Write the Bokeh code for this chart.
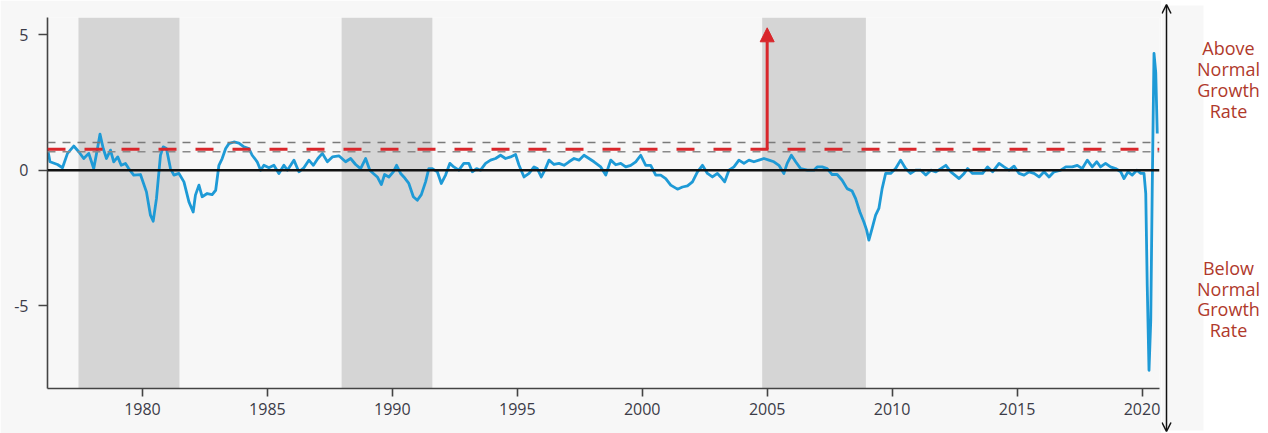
from bokeh.plotting import figure
from bokeh.layouts import row
from bokeh.models import (Range1d, FixedTicker, BoxAnnotation, Span, Arrow,
                          NormalHead, OpenHead, ColumnDataSource)
from bokeh.core.properties import value
from bokeh.embed import file_html
from bokeh.resources import INLINE

# ---------------- data ----------------
years = [1976.2, 1976.3, 1976.6, 1976.8, 1977.0, 1977.25, 1977.45, 1977.65, 1977.85, 1978.05,
         1978.2, 1978.3, 1978.43, 1978.56, 1978.72, 1978.85, 1979.01, 1979.15, 1979.32, 1979.45,
         1979.65, 1979.92, 1980.16, 1980.32, 1980.43, 1980.56, 1980.72, 1980.83, 1980.96, 1981.12,
         1981.26, 1981.46, 1981.66, 1981.86, 1982.03, 1982.12, 1982.26, 1982.39, 1982.59, 1982.79,
         1982.93, 1983.06, 1983.19, 1983.33, 1983.46, 1983.66, 1983.86, 1984.06, 1984.26, 1984.39,
         1984.59, 1984.73, 1984.86, 1985.06, 1985.26, 1985.46, 1985.66, 1985.8, 1985.93, 1986.06,
         1986.26, 1986.46, 1986.66, 1986.84, 1987.02, 1987.2, 1987.4, 1987.6, 1987.86, 1988.13,
         1988.33, 1988.53, 1988.73, 1988.93, 1989.1, 1989.24, 1989.4, 1989.56, 1989.69, 1989.86,
         1990.04, 1990.17, 1990.33, 1990.46, 1990.66, 1990.84, 1991.0, 1991.16, 1991.33, 1991.46,
         1991.6, 1991.8, 1991.96, 1992.13, 1992.3, 1992.46, 1992.66, 1992.86, 1993.06, 1993.2,
         1993.37, 1993.53, 1993.73, 1993.93, 1994.13, 1994.33, 1994.53, 1994.73, 1994.93, 1995.07,
         1995.27, 1995.47, 1995.67, 1995.8, 1995.96, 1996.13, 1996.27, 1996.47, 1996.67, 1996.87,
         1997.07, 1997.27, 1997.47, 1997.67, 1997.87, 1998.07, 1998.34, 1998.54, 1998.74, 1998.94,
         1999.14, 1999.34, 1999.54, 1999.74, 1999.94, 2000.14, 2000.34, 2000.54, 2000.74, 2000.94,
         2001.14, 2001.41, 2001.61, 2001.81, 2002.01, 2002.21, 2002.41, 2002.61, 2002.81, 2003.01,
         2003.14, 2003.3, 2003.47, 2003.67, 2003.87, 2004.07, 2004.27, 2004.47, 2004.67, 2004.87,
         2005.07, 2005.27, 2005.47, 2005.67, 2005.8, 2005.97, 2006.14, 2006.34, 2006.61, 2006.87,
         2007.0, 2007.2, 2007.4, 2007.6, 2007.8, 2008.0, 2008.2, 2008.4, 2008.54, 2008.71,
         2008.87, 2008.98, 2009.07, 2009.2, 2009.34, 2009.47, 2009.6, 2009.74, 2009.94, 2010.14,
         2010.34, 2010.54, 2010.74, 2010.94, 2011.15, 2011.35, 2011.55, 2011.75, 2011.95, 2012.15,
         2012.35, 2012.51, 2012.68, 2012.88, 2013.02, 2013.22, 2013.42, 2013.62, 2013.82, 2014.02,
         2014.28, 2014.48, 2014.68, 2014.88, 2015.08, 2015.28, 2015.48, 2015.68, 2015.88, 2016.08,
         2016.28, 2016.48, 2016.75, 2016.95, 2017.21, 2017.41, 2017.61, 2017.81, 2018.01, 2018.19,
         2018.34, 2018.54, 2018.74, 2018.94, 2019.15, 2019.28, 2019.44, 2019.61, 2019.79, 2019.95,
         2020.08, 2020.15, 2020.21, 2020.28, 2020.35, 2020.41, 2020.48, 2020.55, 2020.61]
growth = [0.80, 0.31, 0.21, 0.09, 0.62, 0.89, 0.68, 0.43, 0.62, 0.06,
          0.80, 1.33, 0.80, 0.43, 0.74, 0.31, 0.49, 0.18, 0.25, 0.06,
          -0.18, -0.16, -0.80, -1.66, -1.88, -1.05, 0.55, 0.86, 0.80, 0.06,
          -0.18, -0.12, -0.43, -1.17, -1.54, -0.92, -0.55, -0.98, -0.86, -0.90,
          -0.74, 0.18, 0.43, 0.80, 0.98, 1.04, 1.00, 0.86, 0.80, 0.55,
          0.31, 0.00, 0.18, 0.09, 0.18, -0.12, 0.18, 0.00, 0.18, 0.37,
          -0.06, 0.09, 0.37, 0.18, 0.43, 0.62, 0.31, 0.49, 0.53, 0.31,
          0.43, 0.21, 0.06, 0.43, 0.00, -0.12, -0.25, -0.53, -0.16, -0.25,
          -0.06, 0.18, -0.12, -0.25, -0.49, -0.98, -1.11, -0.90, -0.43, 0.06,
          0.06, -0.06, -0.49, -0.18, 0.25, 0.12, 0.00, 0.25, 0.25, -0.06,
          0.06, 0.00, 0.25, 0.37, 0.43, 0.55, 0.43, 0.49, 0.58, 0.18,
          -0.25, -0.12, 0.12, 0.06, -0.25, 0.06, 0.37, 0.21, 0.25, 0.18,
          0.31, 0.43, 0.37, 0.55, 0.43, 0.31, 0.12, -0.18, 0.37, 0.20,
          0.25, 0.12, 0.18, 0.31, 0.55, 0.18, 0.18, -0.18, -0.18, -0.31,
          -0.55, -0.70, -0.62, -0.58, -0.43, -0.06, 0.18, -0.12, -0.25, -0.12,
          -0.25, -0.43, 0.00, 0.12, 0.37, 0.25, 0.37, 0.31, 0.37, 0.43,
          0.37, 0.31, 0.18, -0.12, 0.25, 0.55, 0.31, 0.06, 0.00, 0.00,
          0.12, 0.12, 0.06, -0.16, -0.16, -0.37, -0.68, -0.77, -1.05, -1.54,
          -1.91, -2.21, -2.58, -2.15, -1.66, -1.41, -0.68, -0.12, -0.12, 0.06,
          0.37, 0.06, -0.12, 0.00, 0.00, -0.18, 0.00, -0.06, 0.06, 0.18,
          -0.06, -0.18, -0.31, -0.12, 0.06, -0.12, -0.12, -0.12, 0.12, -0.06,
          0.25, 0.12, 0.00, 0.15, -0.12, -0.18, -0.06, -0.12, -0.25, -0.06,
          -0.25, -0.06, 0.00, 0.12, 0.12, 0.18, 0.06, 0.37, 0.12, 0.31,
          0.12, 0.25, 0.12, 0.06, -0.06, -0.31, -0.06, -0.18, 0.00, -0.12,
          -0.12, -0.86, -4.30, -7.38, -5.54, -0.62, 4.31, 3.60, 1.35]

shade_start = [1977.44, 1987.97, 2004.80]
shade_end = [1981.48, 1991.60, 2008.95]

normal_level = 0.77          # red dashed line
band_upper = 1.02            # grey dashed lines
band_lower = 0.68
arrow_year = 2005.0
arrow_top = 5.25

x_ticks = [1980, 1985, 1990, 1995, 2000, 2005, 2010, 2015, 2020]
y_ticks = [-5, 0, 5]
y_tick_labels = {-5: "-5", 0: "0", 5: "5"}

above_text = ["Above", "Normal", "Growth", "Rate"]
below_text = ["Below", "Normal", "Growth", "Rate"]

# ---------------- styles ----------------
PANEL = "#f7f7f7"
SHADE = "#d5d5d5"
BLUE = "#1e9ad6"
RED = "#d9262b"
LABEL_RED = "#b0392b"
TICK_COLOR = "#3c3c48"
FONT = "Open Sans"

p = figure(width=1161, height=433, output_backend="svg", toolbar_location=None,
           x_range=Range1d(1976.2, 2020.7), y_range=Range1d(-8.05, 5.63),
           min_border_left=47, min_border_right=2, min_border_top=17, min_border_bottom=45)
p.frame_align = False
p.background_fill_color = PANEL
p.border_fill_color = PANEL
p.outline_line_color = None
p.xgrid.visible = False
p.ygrid.visible = False

for s, e in zip(shade_start, shade_end):
    p.add_layout(BoxAnnotation(left=s, right=e, fill_color=SHADE, fill_alpha=1.0,
                               line_color=None, level="underlay"))

p.add_layout(Span(location=band_upper, dimension="width", line_color="#7a7a7a",
                  line_width=1.6, line_dash="8 7"))
p.add_layout(Span(location=band_lower, dimension="width", line_color="#8a8a8a",
                  line_width=1.6, line_dash="8 7"))
p.add_layout(Span(location=0, dimension="width", line_color="#111111", line_width=2.5))
p.add_layout(Span(location=normal_level, dimension="width", line_color=RED,
                  line_width=3, line_dash="18 19"))

p.line(years, growth, line_color=BLUE, line_width=2.8, line_join="round")

p.add_layout(Arrow(end=NormalHead(size=14, fill_color=RED, line_color=RED),
                   x_start=arrow_year, y_start=normal_level,
                   x_end=arrow_year, y_end=arrow_top,
                   line_color=RED, line_width=3))

for ax in (p.xaxis[0], p.yaxis[0]):
    ax.axis_line_color = "#444444"
    ax.axis_line_width = 1.6
    ax.major_tick_line_color = "#444444"
    ax.major_tick_line_width = 1.6
    ax.minor_tick_line_color = None
    ax.major_tick_in = 0
    ax.major_label_text_font = FONT
    ax.major_label_text_font_size = "16px"
    ax.major_label_text_color = TICK_COLOR

p.xaxis.ticker = FixedTicker(ticks=x_ticks)
p.xaxis.major_tick_out = 8
p.xaxis.major_label_standoff = 6
p.yaxis.ticker = FixedTicker(ticks=y_ticks)
p.yaxis.major_label_overrides = y_tick_labels
p.yaxis.major_tick_out = 9
p.yaxis.major_label_standoff = 10

# ---------------- right-hand annotation panel ----------------
# full-height frame (not aligned with the main plot); units are pixels from the bottom
side = figure(width=107, height=433, output_backend="svg", toolbar_location=None,
              x_range=Range1d(0, 107), y_range=Range1d(0, 433),
              min_border_left=0, min_border_right=0, min_border_top=0, min_border_bottom=0)
side.frame_align = False
side.axis.visible = False
side.xgrid.visible = False
side.ygrid.visible = False
side.outline_line_color = None
side.background_fill_color = "white"
side.border_fill_color = "white"
side.add_layout(BoxAnnotation(left=0, right=42, bottom=3, top=428, fill_color=PANEL,
                              fill_alpha=1.0, line_color=None, level="underlay"))
side.add_layout(Arrow(start=OpenHead(size=9, line_color="#111111", line_width=1.5),
                      end=OpenHead(size=9, line_color="#111111", line_width=1.5),
                      x_start=5, y_start=2, x_end=5, y_end=429,
                      line_color="#111111", line_width=1.5))

above_src = ColumnDataSource(dict(x=[67] * 4, y=[386, 365, 344, 323], t=above_text))
below_src = ColumnDataSource(dict(x=[67] * 4, y=[166, 145, 125, 104], t=below_text))
for src in (above_src, below_src):
    side.text(x="x", y="y", text="t", source=src, text_align="center",
              text_baseline="middle", text_color=LABEL_RED,
              text_font=value(FONT), text_font_size="18px")

layout = row(p, side)
open("out.html", "w").write(file_html(layout, INLINE))
